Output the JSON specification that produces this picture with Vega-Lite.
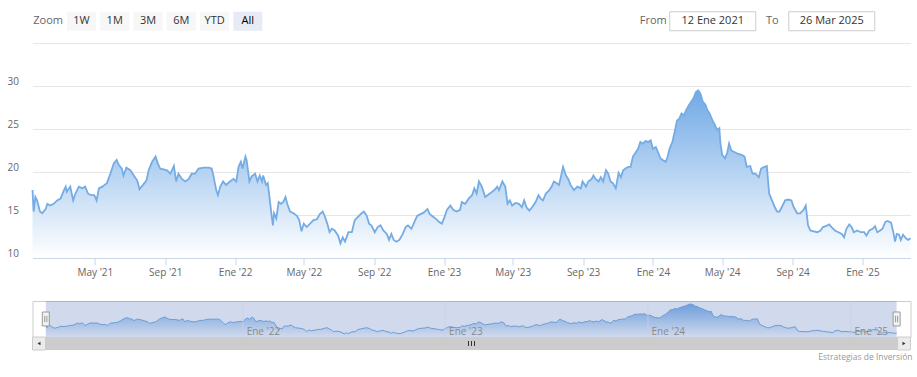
{
  "$schema": "https://vega.github.io/schema/vega-lite/v6.json",
  "padding": {"left": 6.5, "top": 0, "right": 0, "bottom": 0},
  "autosize": {"type": "pad"},
  "background": "white",
  "bounds": "flush",
  "spacing": 0,
  "config": {"view": {"stroke": null}, "font": "Open Sans"},
  "datasets": {
    "buttons": [
      {"btn": "Zoom", "kind": "label"},
      {"btn": "1W", "kind": "button"},
      {"btn": "1M", "kind": "button"},
      {"btn": "3M", "kind": "button"},
      {"btn": "6M", "kind": "button"},
      {"btn": "YTD", "kind": "button"},
      {"btn": "All", "kind": "button", "selected": true}
    ],
    "ranges": [
      {"ctl": "From", "kind": "label"},
      {"ctl": "12 Ene 2021", "kind": "box"},
      {"ctl": "To", "kind": "label"},
      {"ctl": "26 Mar 2025", "kind": "box"}
    ],
    "scroll": [
      {"part": "left"},
      {"part": "grip"},
      {"part": "right"}
    ],
    "price": [
      {"date": "2021-01-12", "value": 17.9},
      {"date": "2021-01-14", "value": 15.4},
      {"date": "2021-01-17", "value": 17.1},
      {"date": "2021-01-20", "value": 16.7},
      {"date": "2021-01-25", "value": 15.4},
      {"date": "2021-01-29", "value": 15.2},
      {"date": "2021-02-04", "value": 15.7},
      {"date": "2021-02-07", "value": 16.3},
      {"date": "2021-02-12", "value": 16.1},
      {"date": "2021-02-18", "value": 16.3},
      {"date": "2021-02-24", "value": 16.7},
      {"date": "2021-03-02", "value": 16.9},
      {"date": "2021-03-08", "value": 17.9},
      {"date": "2021-03-11", "value": 18.3},
      {"date": "2021-03-13", "value": 17.7},
      {"date": "2021-03-19", "value": 18.3},
      {"date": "2021-03-24", "value": 16.7},
      {"date": "2021-03-28", "value": 17.5},
      {"date": "2021-04-03", "value": 18.3},
      {"date": "2021-04-09", "value": 18.1},
      {"date": "2021-04-14", "value": 18.3},
      {"date": "2021-04-19", "value": 17.5},
      {"date": "2021-04-24", "value": 17.3},
      {"date": "2021-04-30", "value": 17.3},
      {"date": "2021-05-04", "value": 16.7},
      {"date": "2021-05-08", "value": 18.1},
      {"date": "2021-05-14", "value": 18.3},
      {"date": "2021-05-18", "value": 18.5},
      {"date": "2021-05-22", "value": 18.7},
      {"date": "2021-05-28", "value": 19.8},
      {"date": "2021-06-03", "value": 21.0},
      {"date": "2021-06-08", "value": 21.4},
      {"date": "2021-06-12", "value": 20.8},
      {"date": "2021-06-17", "value": 20.4},
      {"date": "2021-06-20", "value": 19.6},
      {"date": "2021-06-25", "value": 20.5},
      {"date": "2021-07-02", "value": 20.2},
      {"date": "2021-07-08", "value": 19.6},
      {"date": "2021-07-14", "value": 19.0},
      {"date": "2021-07-18", "value": 18.0},
      {"date": "2021-07-24", "value": 18.5},
      {"date": "2021-07-30", "value": 19.0},
      {"date": "2021-08-03", "value": 20.2},
      {"date": "2021-08-09", "value": 21.2},
      {"date": "2021-08-15", "value": 21.8},
      {"date": "2021-08-19", "value": 21.0},
      {"date": "2021-08-23", "value": 20.4},
      {"date": "2021-08-29", "value": 20.3},
      {"date": "2021-09-04", "value": 20.2},
      {"date": "2021-09-10", "value": 19.8},
      {"date": "2021-09-16", "value": 20.7},
      {"date": "2021-09-20", "value": 18.9},
      {"date": "2021-09-24", "value": 19.8},
      {"date": "2021-09-30", "value": 19.2},
      {"date": "2021-10-06", "value": 18.9},
      {"date": "2021-10-12", "value": 19.2},
      {"date": "2021-10-17", "value": 19.8},
      {"date": "2021-10-23", "value": 19.8},
      {"date": "2021-10-29", "value": 20.4},
      {"date": "2021-11-07", "value": 20.5},
      {"date": "2021-11-16", "value": 20.5},
      {"date": "2021-11-21", "value": 20.4},
      {"date": "2021-11-24", "value": 19.6},
      {"date": "2021-11-29", "value": 17.9},
      {"date": "2021-12-02", "value": 17.3},
      {"date": "2021-12-06", "value": 18.3},
      {"date": "2021-12-11", "value": 18.9},
      {"date": "2021-12-16", "value": 18.5},
      {"date": "2021-12-23", "value": 18.9},
      {"date": "2021-12-29", "value": 19.2},
      {"date": "2022-01-03", "value": 18.9},
      {"date": "2022-01-07", "value": 20.6},
      {"date": "2022-01-11", "value": 21.2},
      {"date": "2022-01-14", "value": 20.4},
      {"date": "2022-01-19", "value": 21.8},
      {"date": "2022-01-21", "value": 21.4},
      {"date": "2022-01-26", "value": 18.9},
      {"date": "2022-01-30", "value": 19.5},
      {"date": "2022-02-05", "value": 19.8},
      {"date": "2022-02-09", "value": 18.9},
      {"date": "2022-02-13", "value": 19.6},
      {"date": "2022-02-17", "value": 18.9},
      {"date": "2022-02-19", "value": 19.6},
      {"date": "2022-02-24", "value": 18.5},
      {"date": "2022-02-27", "value": 18.7},
      {"date": "2022-03-02", "value": 17.1},
      {"date": "2022-03-06", "value": 14.8},
      {"date": "2022-03-08", "value": 13.8},
      {"date": "2022-03-10", "value": 15.2},
      {"date": "2022-03-14", "value": 14.6},
      {"date": "2022-03-18", "value": 16.5},
      {"date": "2022-03-22", "value": 16.3},
      {"date": "2022-03-26", "value": 16.5},
      {"date": "2022-03-30", "value": 17.1},
      {"date": "2022-04-02", "value": 16.3},
      {"date": "2022-04-07", "value": 15.4},
      {"date": "2022-04-13", "value": 15.2},
      {"date": "2022-04-19", "value": 14.9},
      {"date": "2022-04-23", "value": 14.4},
      {"date": "2022-04-27", "value": 13.1},
      {"date": "2022-05-01", "value": 14.0},
      {"date": "2022-05-06", "value": 13.6},
      {"date": "2022-05-12", "value": 14.0},
      {"date": "2022-05-18", "value": 14.4},
      {"date": "2022-05-24", "value": 14.5},
      {"date": "2022-05-29", "value": 15.1},
      {"date": "2022-06-03", "value": 15.4},
      {"date": "2022-06-07", "value": 14.8},
      {"date": "2022-06-11", "value": 14.0},
      {"date": "2022-06-15", "value": 13.0},
      {"date": "2022-06-19", "value": 13.4},
      {"date": "2022-06-24", "value": 13.2},
      {"date": "2022-06-30", "value": 12.6},
      {"date": "2022-07-04", "value": 11.7},
      {"date": "2022-07-08", "value": 12.4},
      {"date": "2022-07-12", "value": 11.9},
      {"date": "2022-07-18", "value": 13.0},
      {"date": "2022-07-24", "value": 13.0},
      {"date": "2022-07-29", "value": 14.4},
      {"date": "2022-08-04", "value": 14.8},
      {"date": "2022-08-10", "value": 15.2},
      {"date": "2022-08-14", "value": 15.4},
      {"date": "2022-08-19", "value": 14.9},
      {"date": "2022-08-23", "value": 14.0},
      {"date": "2022-08-27", "value": 13.8},
      {"date": "2022-09-02", "value": 13.0},
      {"date": "2022-09-07", "value": 13.6},
      {"date": "2022-09-12", "value": 13.8},
      {"date": "2022-09-17", "value": 13.2},
      {"date": "2022-09-23", "value": 12.8},
      {"date": "2022-09-27", "value": 12.1},
      {"date": "2022-10-01", "value": 12.8},
      {"date": "2022-10-05", "value": 12.1},
      {"date": "2022-10-10", "value": 11.9},
      {"date": "2022-10-15", "value": 12.1},
      {"date": "2022-10-21", "value": 12.8},
      {"date": "2022-10-26", "value": 13.6},
      {"date": "2022-10-30", "value": 13.8},
      {"date": "2022-11-05", "value": 13.4},
      {"date": "2022-11-09", "value": 14.0},
      {"date": "2022-11-15", "value": 14.9},
      {"date": "2022-11-21", "value": 15.1},
      {"date": "2022-11-27", "value": 15.3},
      {"date": "2022-12-03", "value": 15.7},
      {"date": "2022-12-07", "value": 15.1},
      {"date": "2022-12-13", "value": 14.8},
      {"date": "2022-12-19", "value": 14.5},
      {"date": "2022-12-23", "value": 14.2},
      {"date": "2022-12-28", "value": 14.0},
      {"date": "2023-01-01", "value": 14.6},
      {"date": "2023-01-06", "value": 15.6},
      {"date": "2023-01-12", "value": 16.1},
      {"date": "2023-01-17", "value": 15.6},
      {"date": "2023-01-23", "value": 15.4},
      {"date": "2023-01-29", "value": 15.6},
      {"date": "2023-02-01", "value": 16.5},
      {"date": "2023-02-07", "value": 16.3},
      {"date": "2023-02-13", "value": 16.9},
      {"date": "2023-02-19", "value": 17.3},
      {"date": "2023-02-23", "value": 18.1},
      {"date": "2023-02-27", "value": 17.5},
      {"date": "2023-03-03", "value": 18.9},
      {"date": "2023-03-08", "value": 18.3},
      {"date": "2023-03-14", "value": 17.1},
      {"date": "2023-03-18", "value": 17.3},
      {"date": "2023-03-24", "value": 17.6},
      {"date": "2023-03-30", "value": 17.9},
      {"date": "2023-04-04", "value": 18.3},
      {"date": "2023-04-07", "value": 17.9},
      {"date": "2023-04-13", "value": 18.9},
      {"date": "2023-04-18", "value": 18.3},
      {"date": "2023-04-22", "value": 16.3},
      {"date": "2023-04-26", "value": 16.7},
      {"date": "2023-04-30", "value": 16.1},
      {"date": "2023-05-06", "value": 16.4},
      {"date": "2023-05-12", "value": 16.3},
      {"date": "2023-05-17", "value": 15.9},
      {"date": "2023-05-21", "value": 16.7},
      {"date": "2023-05-25", "value": 15.9},
      {"date": "2023-05-30", "value": 15.5},
      {"date": "2023-06-04", "value": 15.9},
      {"date": "2023-06-10", "value": 16.5},
      {"date": "2023-06-15", "value": 17.3},
      {"date": "2023-06-19", "value": 16.9},
      {"date": "2023-06-23", "value": 16.7},
      {"date": "2023-06-28", "value": 17.5},
      {"date": "2023-07-04", "value": 17.9},
      {"date": "2023-07-08", "value": 18.3},
      {"date": "2023-07-12", "value": 18.9},
      {"date": "2023-07-17", "value": 18.7},
      {"date": "2023-07-21", "value": 18.5},
      {"date": "2023-07-24", "value": 19.4},
      {"date": "2023-07-28", "value": 20.6},
      {"date": "2023-08-02", "value": 19.6},
      {"date": "2023-08-06", "value": 19.2},
      {"date": "2023-08-10", "value": 18.5},
      {"date": "2023-08-16", "value": 17.9},
      {"date": "2023-08-22", "value": 18.3},
      {"date": "2023-08-28", "value": 18.1},
      {"date": "2023-08-31", "value": 18.9},
      {"date": "2023-09-06", "value": 18.3},
      {"date": "2023-09-10", "value": 18.9},
      {"date": "2023-09-16", "value": 19.2},
      {"date": "2023-09-19", "value": 19.6},
      {"date": "2023-09-23", "value": 19.2},
      {"date": "2023-09-28", "value": 18.9},
      {"date": "2023-10-02", "value": 19.4},
      {"date": "2023-10-06", "value": 18.9},
      {"date": "2023-10-11", "value": 20.2},
      {"date": "2023-10-15", "value": 19.8},
      {"date": "2023-10-19", "value": 18.9},
      {"date": "2023-10-23", "value": 18.7},
      {"date": "2023-10-28", "value": 18.1},
      {"date": "2023-11-02", "value": 19.9},
      {"date": "2023-11-06", "value": 19.4},
      {"date": "2023-11-10", "value": 20.2},
      {"date": "2023-11-14", "value": 20.4},
      {"date": "2023-11-19", "value": 20.6},
      {"date": "2023-11-23", "value": 20.6},
      {"date": "2023-11-27", "value": 21.8},
      {"date": "2023-12-02", "value": 22.3},
      {"date": "2023-12-06", "value": 22.7},
      {"date": "2023-12-10", "value": 23.5},
      {"date": "2023-12-14", "value": 23.3},
      {"date": "2023-12-19", "value": 23.6},
      {"date": "2023-12-24", "value": 23.5},
      {"date": "2023-12-28", "value": 23.7},
      {"date": "2024-01-01", "value": 22.7},
      {"date": "2024-01-06", "value": 22.9},
      {"date": "2024-01-10", "value": 22.3},
      {"date": "2024-01-14", "value": 21.6},
      {"date": "2024-01-18", "value": 21.4},
      {"date": "2024-01-23", "value": 21.2},
      {"date": "2024-01-26", "value": 21.6},
      {"date": "2024-01-30", "value": 22.7},
      {"date": "2024-02-04", "value": 23.5},
      {"date": "2024-02-08", "value": 24.7},
      {"date": "2024-02-12", "value": 26.0},
      {"date": "2024-02-16", "value": 26.2},
      {"date": "2024-02-20", "value": 26.8},
      {"date": "2024-02-24", "value": 26.6},
      {"date": "2024-02-28", "value": 27.2},
      {"date": "2024-03-04", "value": 27.8},
      {"date": "2024-03-08", "value": 28.2},
      {"date": "2024-03-12", "value": 28.6},
      {"date": "2024-03-16", "value": 29.3},
      {"date": "2024-03-20", "value": 29.5},
      {"date": "2024-03-24", "value": 29.1},
      {"date": "2024-03-28", "value": 28.2},
      {"date": "2024-04-02", "value": 27.8},
      {"date": "2024-04-05", "value": 27.2},
      {"date": "2024-04-09", "value": 26.8},
      {"date": "2024-04-14", "value": 26.0},
      {"date": "2024-04-18", "value": 25.5},
      {"date": "2024-04-22", "value": 24.9},
      {"date": "2024-04-26", "value": 25.1},
      {"date": "2024-04-28", "value": 23.3},
      {"date": "2024-05-01", "value": 22.0},
      {"date": "2024-05-06", "value": 21.6},
      {"date": "2024-05-10", "value": 22.3},
      {"date": "2024-05-13", "value": 23.3},
      {"date": "2024-05-17", "value": 22.5},
      {"date": "2024-05-23", "value": 22.3},
      {"date": "2024-05-29", "value": 22.1},
      {"date": "2024-06-04", "value": 22.0},
      {"date": "2024-06-09", "value": 21.8},
      {"date": "2024-06-13", "value": 20.6},
      {"date": "2024-06-19", "value": 20.7},
      {"date": "2024-06-23", "value": 19.8},
      {"date": "2024-06-28", "value": 19.8},
      {"date": "2024-07-04", "value": 19.4},
      {"date": "2024-07-08", "value": 20.4},
      {"date": "2024-07-14", "value": 20.6},
      {"date": "2024-07-18", "value": 20.7},
      {"date": "2024-07-22", "value": 17.5},
      {"date": "2024-07-27", "value": 16.7},
      {"date": "2024-08-01", "value": 15.9},
      {"date": "2024-08-05", "value": 15.4},
      {"date": "2024-08-09", "value": 15.4},
      {"date": "2024-08-13", "value": 15.9},
      {"date": "2024-08-19", "value": 16.7},
      {"date": "2024-08-25", "value": 16.8},
      {"date": "2024-08-30", "value": 16.7},
      {"date": "2024-09-03", "value": 15.9},
      {"date": "2024-09-09", "value": 15.2},
      {"date": "2024-09-14", "value": 15.2},
      {"date": "2024-09-20", "value": 15.6},
      {"date": "2024-09-24", "value": 16.1},
      {"date": "2024-09-28", "value": 13.8},
      {"date": "2024-10-02", "value": 13.2},
      {"date": "2024-10-08", "value": 13.1},
      {"date": "2024-10-14", "value": 13.0},
      {"date": "2024-10-20", "value": 13.2},
      {"date": "2024-10-24", "value": 13.6},
      {"date": "2024-10-29", "value": 13.7},
      {"date": "2024-11-04", "value": 13.9},
      {"date": "2024-11-08", "value": 13.6},
      {"date": "2024-11-14", "value": 13.2},
      {"date": "2024-11-20", "value": 13.0},
      {"date": "2024-11-26", "value": 12.8},
      {"date": "2024-11-30", "value": 12.4},
      {"date": "2024-12-04", "value": 13.4},
      {"date": "2024-12-09", "value": 13.9},
      {"date": "2024-12-13", "value": 13.6},
      {"date": "2024-12-17", "value": 13.0},
      {"date": "2024-12-23", "value": 13.2},
      {"date": "2024-12-29", "value": 13.0},
      {"date": "2025-01-04", "value": 13.0},
      {"date": "2025-01-08", "value": 12.6},
      {"date": "2025-01-13", "value": 13.2},
      {"date": "2025-01-19", "value": 13.4},
      {"date": "2025-01-23", "value": 13.7},
      {"date": "2025-01-27", "value": 13.0},
      {"date": "2025-02-01", "value": 13.2},
      {"date": "2025-02-05", "value": 13.4},
      {"date": "2025-02-10", "value": 14.2},
      {"date": "2025-02-14", "value": 14.3},
      {"date": "2025-02-20", "value": 14.1},
      {"date": "2025-02-24", "value": 13.0},
      {"date": "2025-02-27", "value": 11.9},
      {"date": "2025-03-02", "value": 12.8},
      {"date": "2025-03-06", "value": 12.7},
      {"date": "2025-03-09", "value": 12.1},
      {"date": "2025-03-13", "value": 12.7},
      {"date": "2025-03-18", "value": 12.3},
      {"date": "2025-03-22", "value": 12.1},
      {"date": "2025-03-26", "value": 12.3}
    ]
  },
  "vconcat": [
    {
      "width": 878,
      "height": 42.5,
      "resolve": {"scale": {"x": "independent"}},
      "layer": [
        {
          "data": {"name": "buttons"},
          "transform": [{"filter": "datum.kind != 'label'"}],
          "mark": {"type": "point", "shape": "M-1,-0.655H1V0.655H-1Z", "size": 841, "filled": true, "opacity": 1, "strokeWidth": 0},
          "encoding": {
            "x": {"field": "btn", "type": "nominal", "scale": {"type": "band", "domain": ["Zoom", "1W", "1M", "3M", "6M", "YTD", "All"], "range": [-1, 232]}, "axis": null},
            "fill": {"condition": {"test": "datum.selected", "value": "#e6ebf5"}, "value": "#f7f7f7"}
          }
        },
        {
          "data": {"name": "buttons"},
          "mark": {"type": "text", "fontSize": 11, "font": "Open Sans", "baseline": "middle"},
          "encoding": {
            "x": {"field": "btn", "type": "nominal", "scale": {"type": "band", "domain": ["Zoom", "1W", "1M", "3M", "6M", "YTD", "All"], "range": [-1, 232]}, "axis": null},
            "text": {"field": "btn"},
            "color": {"condition": [{"test": "datum.kind == 'label'", "value": "#666666"}, {"test": "datum.selected", "value": "#000000"}], "value": "#333333"},
            "fontWeight": {"condition": {"test": "datum.selected", "value": "bold"}, "value": "normal"}
          }
        },
        {
          "data": {"name": "ranges"},
          "transform": [{"filter": "datum.kind == 'box'"}],
          "mark": {"type": "point", "shape": "M-1,-0.221H1V0.221H-1Z", "size": 7396, "filled": true, "fill": "#ffffff", "stroke": "#cccccc", "strokeWidth": 1, "opacity": 1},
          "encoding": {
            "x": {"field": "ctl", "type": "nominal", "scale": {"type": "band", "domain": ["From", "12 Ene 2021", "To", "26 Mar 2025"], "range": [591, 829]}, "axis": null}
          }
        },
        {
          "data": {"name": "ranges"},
          "mark": {"type": "text", "fontSize": 11, "font": "Open Sans", "baseline": "middle"},
          "encoding": {
            "x": {"field": "ctl", "type": "nominal", "scale": {"type": "band", "domain": ["From", "12 Ene 2021", "To", "26 Mar 2025"], "range": [591, 829]}, "axis": null},
            "text": {"field": "ctl"},
            "color": {"condition": {"test": "datum.kind == 'label'", "value": "#666666"}, "value": "#333333"}
          }
        }
      ]
    },
    {
      "width": 878,
      "height": 215,
      "data": {"name": "price"},
      "encoding": {
        "x": {
          "field": "date", "type": "temporal",
          "scale": {"type": "utc", "nice": false, "domain": [{"year": 2021, "month": 1, "date": 12, "utc": true}, {"year": 2025, "month": 3, "date": 26, "utc": true}]},
          "axis": {
            "values": [
              {"year": 2021, "month": 5, "date": 1, "utc": true},
              {"year": 2021, "month": 9, "date": 1, "utc": true},
              {"year": 2022, "month": 1, "date": 1, "utc": true},
              {"year": 2022, "month": 5, "date": 1, "utc": true},
              {"year": 2022, "month": 9, "date": 1, "utc": true},
              {"year": 2023, "month": 1, "date": 1, "utc": true},
              {"year": 2023, "month": 5, "date": 1, "utc": true},
              {"year": 2023, "month": 9, "date": 1, "utc": true},
              {"year": 2024, "month": 1, "date": 1, "utc": true},
              {"year": 2024, "month": 5, "date": 1, "utc": true},
              {"year": 2024, "month": 9, "date": 1, "utc": true},
              {"year": 2025, "month": 1, "date": 1, "utc": true}
            ],
            "labelExpr": "(utcmonth(datum.value) == 0 ? 'Ene' : utcFormat(datum.value, '%b')) + \" '\" + utcFormat(datum.value, '%y')",
            "grid": false,
            "domainColor": "#ccd6eb",
            "tickColor": "#ccd6eb",
            "tickSize": 7,
            "labelPadding": 2,
            "labelColor": "#666666",
            "labelFont": "Open Sans",
            "labelFontSize": 10,
            "labelFlush": false,
            "labelOverlap": false,
            "title": null,
            "zindex": 1
          }
        },
        "y": {
          "field": "value", "type": "quantitative",
          "scale": {"domain": [10, 35], "nice": false, "zero": false},
          "axis": {
            "values": [10, 15, 20, 25, 30, 35],
            "labelExpr": "datum.value == 35 ? '' : datum.label",
            "grid": true,
            "gridColor": "#e6e6e6",
            "domain": false,
            "ticks": false,
            "tickSize": 0,
            "labelPadding": 14,
            "labelColor": "#666666",
            "labelFont": "Open Sans",
            "labelFontSize": 10,
            "labelBaseline": "alphabetic",
            "labelOffset": -1.5,
            "title": null
          }
        }
      },
      "layer": [
        {
          "mark": {
            "type": "area", "opacity": 1,
            "color": {"gradient": "linear", "x1": 0, "y1": 0, "x2": 0, "y2": 1, "stops": [{"offset": 0, "color": "#70a9e6"}, {"offset": 1, "color": "#ffffff"}]}
          },
          "encoding": {"y2": {"datum": 10}}
        },
        {
          "mark": {"type": "line", "color": "#74ace3", "strokeWidth": 1.8, "opacity": 1}
        }
      ]
    },
    {
      "width": 878,
      "height": 42.5,
      "data": {"values": [{"a": 1}]},
      "mark": {"type": "text", "text": ""},
      "encoding": {}
    },
    {
      "width": 878,
      "height": 36,
      "view": {"stroke": "#cccccc"},
      "data": {"name": "price"},
      "layer": [
        {
          "mark": {
            "type": "area", "opacity": 1,
            "color": {"gradient": "linear", "x1": 0, "y1": 0, "x2": 0, "y2": 1, "stops": [{"offset": 0, "color": "#70a9e6"}, {"offset": 1, "color": "#ffffff"}]}
          },
          "encoding": {
            "x": {
              "field": "date", "type": "temporal",
              "scale": {"type": "utc", "nice": false, "domain": [{"year": 2020, "month": 12, "date": 19, "utc": true}, {"year": 2025, "month": 4, "date": 20, "utc": true}]},
              "axis": {
                "values": [
                  {"year": 2022, "month": 1, "date": 1, "utc": true},
                  {"year": 2023, "month": 1, "date": 1, "utc": true},
                  {"year": 2024, "month": 1, "date": 1, "utc": true},
                  {"year": 2025, "month": 1, "date": 1, "utc": true}
                ],
                "labelExpr": "'Ene' + \" '\" + utcFormat(datum.value, '%y')",
                "grid": true, "gridColor": "#c9d1e3", "gridOpacity": 0.8, "domain": false, "ticks": false, "tickSize": 0,
                "labelAlign": "left", "labelBaseline": "alphabetic", "labelPadding": -3, "labelOffset": 4,
                "labelColor": "#8a8a8a", "labelFont": "Open Sans", "labelFontSize": 10,
                "labelFlush": false, "labelOverlap": false, "title": null, "zindex": 1
              }
            },
            "y": {"field": "value", "type": "quantitative", "scale": {"domain": [9.9, 31.3], "nice": false, "zero": false}, "axis": null},
            "y2": {"datum": 9.9}
          }
        },
        {
          "mark": {"type": "line", "color": "#6fa6dc", "strokeWidth": 1, "opacity": 1},
          "encoding": {
            "x": {"field": "date", "type": "temporal"},
            "y": {"field": "value", "type": "quantitative"}
          }
        },
        {
          "mark": {"type": "rect", "color": "#6685c2", "opacity": 0.3},
          "encoding": {
            "x": {"aggregate": "min", "field": "date", "type": "temporal"},
            "x2": {"aggregate": "max", "field": "date"}
          }
        },
        {
          "mark": {"type": "point", "shape": "M-0.5,-1H0.5V1H-0.5Z M-0.15,-0.45V0.45 M0.15,-0.45V0.45", "size": 196, "filled": true, "fill": "#f2f2f2", "stroke": "#999999", "strokeWidth": 1, "opacity": 1},
          "encoding": {"x": {"aggregate": "min", "field": "date", "type": "temporal"}}
        },
        {
          "mark": {"type": "point", "shape": "M-0.5,-1H0.5V1H-0.5Z M-0.15,-0.45V0.45 M0.15,-0.45V0.45", "size": 196, "filled": true, "fill": "#f2f2f2", "stroke": "#999999", "strokeWidth": 1, "opacity": 1},
          "encoding": {"x": {"aggregate": "max", "field": "date", "type": "temporal"}}
        }
      ]
    },
    {
      "width": 878,
      "height": 13,
      "data": {"name": "scroll"},
      "title": {"text": "Estrategias de Inversión", "orient": "bottom", "anchor": "end", "fontSize": 8.5, "font": "Open Sans", "fontWeight": "normal", "color": "#999999", "offset": 1},
      "layer": [
        {
          "transform": [{"filter": "datum.part == 'grip'"}],
          "mark": {"type": "rect", "color": "#cccccc"},
          "encoding": {
            "x": {"datum": "left", "type": "nominal", "scale": {"type": "point", "domain": ["left", "grip", "right"], "padding": 0.015}, "axis": null},
            "x2": {"datum": "right"}
          }
        },
        {
          "transform": [{"filter": "datum.part != 'grip'"}],
          "mark": {"type": "point", "shape": "square", "size": 169, "filled": true, "fill": "#ebebeb", "stroke": "#cccccc", "strokeWidth": 1, "opacity": 1},
          "encoding": {
            "x": {"field": "part", "type": "nominal", "scale": {"type": "point", "domain": ["left", "grip", "right"], "padding": 0.015}, "axis": null}
          }
        },
        {
          "transform": [{"filter": "datum.part != 'grip'"}],
          "mark": {"type": "point", "filled": true, "size": 12, "color": "#333333", "opacity": 1},
          "encoding": {
            "x": {"field": "part", "type": "nominal", "scale": {"type": "point", "domain": ["left", "grip", "right"], "padding": 0.015}, "axis": null},
            "shape": {"field": "part", "type": "nominal", "scale": {"domain": ["left", "right"], "range": ["triangle-left", "triangle-right"]}, "legend": null}
          }
        },
        {
          "transform": [{"filter": "datum.part == 'grip'"}],
          "mark": {"type": "point", "shape": "M-1,-0.83V0.83M0,-0.83V0.83M1,-0.83V0.83", "size": 36, "filled": false, "stroke": "#333333", "strokeWidth": 1, "opacity": 1},
          "encoding": {
            "x": {"field": "part", "type": "nominal", "scale": {"type": "point", "domain": ["left", "grip", "right"], "padding": 0.015}, "axis": null}
          }
        }
      ]
    }
  ]
}
